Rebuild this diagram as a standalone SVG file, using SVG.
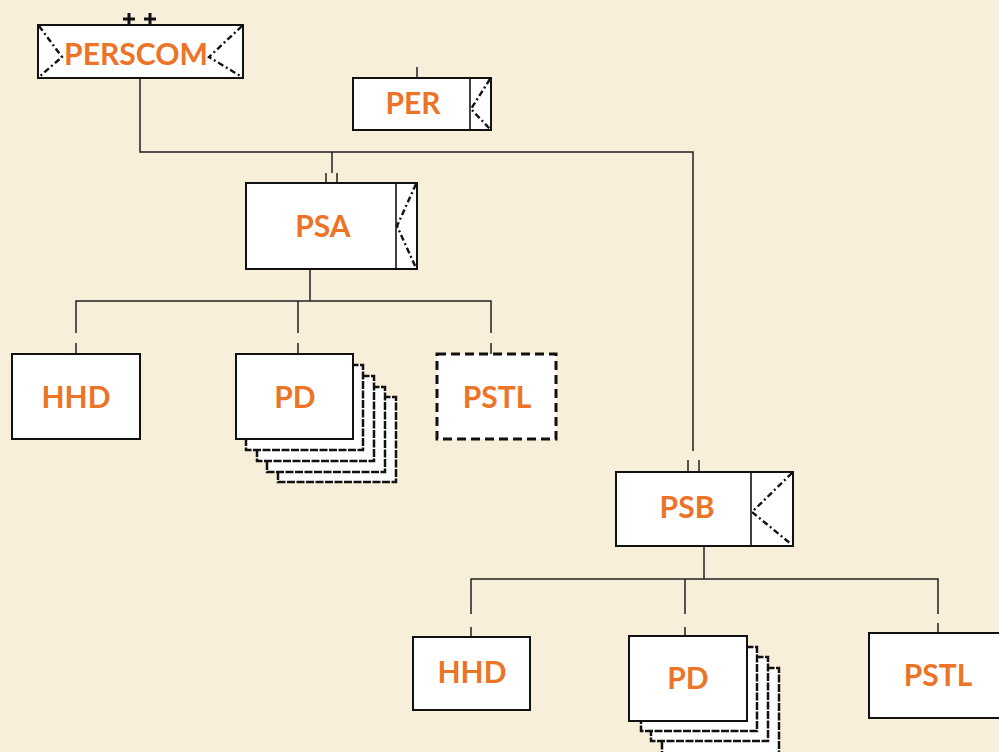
<svg xmlns="http://www.w3.org/2000/svg" width="999" height="752" viewBox="0 0 999 752">
<style>
.bg{fill:#F8EFDA}
.box{fill:#fff;stroke:#111;stroke-width:2}
.dbox{fill:#fff;stroke:#111;stroke-width:3;stroke-dasharray:9 5}
.sbox{fill:#fff;stroke:#111;stroke-width:2.5;stroke-dasharray:8 1.5}
.div{fill:none;stroke:#111;stroke-width:1.6}
.x{fill:none;stroke:#111;stroke-width:2.4;stroke-dasharray:6 3 2 3}
.ln{fill:none;stroke:#222;stroke-width:1.5}
.lbl{font-family:Lato,"Open Sans","Liberation Sans",sans-serif;font-weight:bold;font-size:30px;fill:#EB7427;text-anchor:middle}
.plus{stroke:#111;stroke-width:3}
</style>
<rect class="bg" x="0" y="0" width="999" height="752"/>

<g id="connectors">
  <path class="ln" d="M140,78 V152 H693 V451"/>
  <path class="ln" d="M688,460 V472 M699,460 V472"/>
  <path class="ln" d="M332,152 V173 M326,173 V183 M337,173 V183"/>
  <path class="ln" d="M417,67 V78"/>
  <path class="ln" d="M310,269 V301 M76,333 V301 H491 V333 M298,301 V333"/>
  <path class="ln" d="M76,343 V354 M298,343 V354 M491,343 V354"/>
  <path class="ln" d="M704,546 V579 M471,614 V579 H938 V614 M685,579 V614"/>
  <path class="ln" d="M471,627 V637 M685,627 V636 M938,623 V633"/>
</g>

<g id="PERSCOM">
  <rect class="box" x="38" y="25" width="205" height="53"/>
  <path class="x" d="M39,26 L62,57 L39,77 M242,26 L209,57 L242,77"/>
  <line class="plus" x1="123" y1="19" x2="135" y2="19"/>
  <line class="plus" x1="129" y1="13" x2="129" y2="25"/>
  <line class="plus" x1="144" y1="19" x2="156" y2="19"/>
  <line class="plus" x1="150" y1="13" x2="150" y2="25"/>
  <text class="lbl" x="136" y="65" textLength="144" lengthAdjust="spacingAndGlyphs">PERSCOM</text>
</g>

<g id="PER">
  <rect class="box" x="353" y="78" width="138" height="52"/>
  <line class="div" x1="470" y1="78" x2="470" y2="130"/>
  <path class="x" d="M490,79 L471,109 L490,129"/>
  <text class="lbl" x="413" y="114">PER</text>
</g>

<g id="PSA">
  <rect class="box" x="246" y="183" width="171" height="86"/>
  <line class="div" x1="396" y1="183" x2="396" y2="269"/>
  <path class="x" d="M416,184 L397,226 L416,268"/>
  <text class="lbl" x="323" y="237">PSA</text>
</g>

<g id="HHD-A">
  <rect class="box" x="12" y="354" width="128" height="85"/>
  <text class="lbl" x="76" y="408">HHD</text>
</g>

<g id="PD-A">
  <rect class="sbox" x="278" y="397" width="118" height="85"/>
  <rect class="sbox" x="267" y="387" width="118" height="85"/>
  <rect class="sbox" x="257" y="376" width="117" height="85"/>
  <rect class="sbox" x="246" y="365" width="117" height="85"/>
  <rect class="box" x="236" y="354" width="117" height="85"/>
  <text class="lbl" x="295" y="408">PD</text>
</g>

<g id="PSTL-A">
  <rect class="dbox" x="437" y="354" width="119" height="85"/>
  <text class="lbl" x="497" y="408">PSTL</text>
</g>

<g id="PSB">
  <rect class="box" x="616" y="472" width="177" height="74"/>
  <line class="div" x1="751" y1="472" x2="751" y2="546"/>
  <path class="x" d="M792,473 L752,512 L791,544"/>
  <text class="lbl" x="687" y="518">PSB</text>
</g>

<g id="HHD-B">
  <rect class="box" x="413" y="637" width="117" height="73"/>
  <text class="lbl" x="472" y="683">HHD</text>
</g>

<g id="PD-B">
  <rect class="sbox" x="662" y="668" width="117" height="90"/>
  <rect class="sbox" x="651" y="657" width="117" height="84"/>
  <rect class="sbox" x="641" y="647" width="116" height="84"/>
  <rect class="box" x="629" y="636" width="118" height="85"/>
  <text class="lbl" x="688" y="689">PD</text>
</g>

<g id="PSTL-B">
  <rect class="box" x="869" y="633" width="140" height="85"/>
  <text class="lbl" x="938" y="686">PSTL</text>
</g>
</svg>
